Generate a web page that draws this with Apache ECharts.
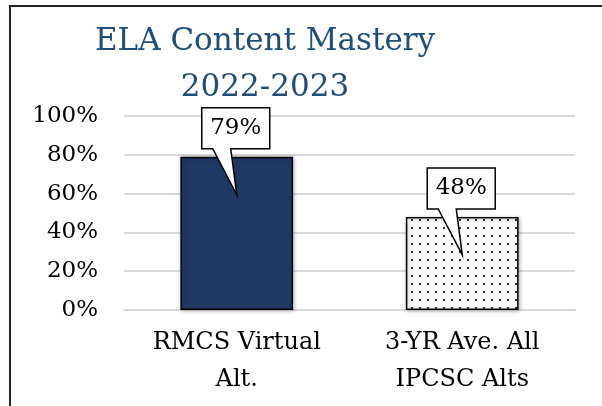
<!DOCTYPE html>
<html>
<head>
<meta charset="utf-8">
<script src="https://cdn.jsdelivr.net/npm/echarts@6/dist/echarts.min.js"></script>
<style>
  html, body { margin: 0; padding: 0; background: #fff; }
  #chart { width: 602px; height: 406px; }
</style>
</head>
<body>
<div id="chart"></div>
<script>
var categories = ['RMCS Virtual\nAlt.', '3-YR Ave. All\nIPCSC Alts'];
var mastery = [0.79, 0.48];
var yTicks = [0, 0.2, 0.4, 0.6, 0.8, 1];

var FONT = 'DejaVu Serif';

// dotted fill for the second bar
function dotPattern() {
    var c = document.createElement('canvas');
    c.width = 8; c.height = 8;
    var ctx = c.getContext('2d');
    ctx.fillStyle = '#fff';
    ctx.fillRect(0, 0, 8, 8);
    ctx.fillStyle = '#333';
    ctx.fillRect(3, 3, 2, 2);
    return c;
}

var chart = echarts.init(document.getElementById('chart'));

var option = {
    animation: false,
    title: {
        text: 'ELA Content Mastery\n2022-2023',
        left: 265,
        top: 19,
        padding: 0,
        textAlign: 'center',
        textStyle: {
            fontFamily: FONT,
            fontWeight: 'normal',
            fontSize: 31,
            lineHeight: 46,
            color: '#1f4e79'
        }
    },
    graphic: [{
        type: 'rect',
        shape: { x: 10, y: 6, width: 640, height: 440 },
        style: { fill: 'none', stroke: '#222', lineWidth: 2 },
        silent: true
    }],
    grid: { left: 124, right: 27, top: 116, bottom: 96 },
    xAxis: {
        type: 'category',
        data: categories,
        axisTick: { show: false },
        axisLine: { lineStyle: { color: '#d9d9d9', width: 2 } },
        axisLabel: {
            interval: 0,
            hideOverlap: false,
            fontFamily: FONT,
            fontSize: 24,
            lineHeight: 37,
            color: '#000',
            margin: 14
        }
    },
    yAxis: {
        type: 'value',
        min: yTicks[0],
        max: yTicks[yTicks.length - 1],
        interval: 0.2,
        axisLine: { show: false },
        axisTick: { show: false },
        splitLine: { lineStyle: { color: '#d9d9d9', width: 2 } },
        axisLabel: {
            fontFamily: FONT,
            fontSize: 23,
            color: '#000',
            margin: 26,
            formatter: function (v) { return Math.round(v * 100) + '%'; }
        }
    },
    series: [{
        type: 'bar',
        barWidth: '50%',
        data: mastery.map(function (v, i) {
            return {
                value: v,
                itemStyle: i === 0
                    ? { color: '#203864' }
                    : { color: { image: dotPattern(), repeat: 'repeat' } }
            };
        }),
        itemStyle: {
            borderColor: '#000',
            borderWidth: 1.5,
            shadowColor: 'rgba(0,0,0,0.3)',
            shadowBlur: 4,
            shadowOffsetX: 1,
            shadowOffsetY: 1
        }
    }, {
        // callout labels
        type: 'custom',
        data: mastery.map(function (v, i) { return [i, v]; }),
        z: 10,
        renderItem: function (params, api) {
            var p = api.coord([api.value(0), api.value(1)]);
            var cx = p[0] - 1;
            var bottom = p[1] - 8;
            var top = bottom - 41;
            var l = cx - 34, r = cx + 34;
            var pts = [
                [l, top], [r, top], [r, bottom],
                [cx - 5, bottom], [p[0], p[1] + 38], [cx - 23, bottom],
                [l, bottom]
            ];
            return {
                type: 'group',
                children: [{
                    type: 'polygon',
                    shape: { points: pts },
                    style: { fill: '#fff', stroke: '#000', lineWidth: 1.5 }
                }, {
                    type: 'text',
                    style: {
                        text: Math.round(api.value(1) * 100) + '%',
                        x: cx,
                        y: (top + bottom) / 2,
                        align: 'center',
                        verticalAlign: 'middle',
                        fontFamily: FONT,
                        fontSize: 23,
                        fill: '#000'
                    }
                }]
            };
        }
    }]
};

chart.setOption(option);
</script>
</body>
</html>
